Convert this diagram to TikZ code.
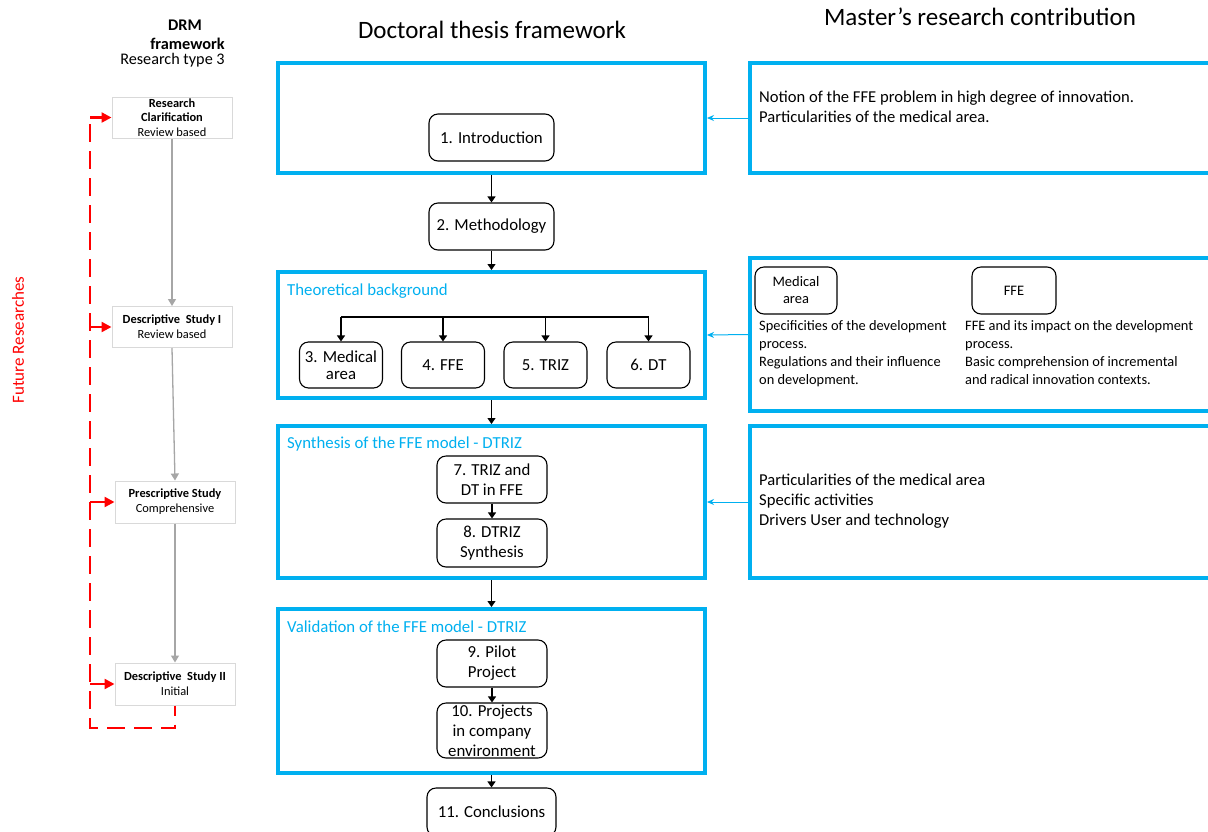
\documentclass[tikz,border=0pt]{standalone}
\usepackage{fontspec}
\setmainfont{Carlito}
\usetikzlibrary{arrows.meta}
\definecolor{skyline}{HTML}{00B0F0}
\definecolor{drmgray}{HTML}{A6A6A6}
\definecolor{drmframe}{HTML}{D9D9D9}
\definecolor{futurered}{HTML}{FF0000}
\newcommand\fsz[2]{\fontsize{#1}{#2}\selectfont}
\tikzset{
  panel/.style={draw=skyline, line width=4pt, inner sep=0pt},
  chapter/.style={draw, rounded corners=9pt, line width=1.1pt, align=center,
    inner sep=0pt, font=\fsz{16.8}{20}},
  flow/.style={line width=1.1pt, -{Triangle[length=6pt,width=8pt]}},
  feed/.style={draw=skyline, line width=1pt, -{Stealth[length=7pt,width=6pt]}},
  drmbox/.style={draw=drmframe, line width=1pt, align=center, inner sep=0pt,
    font=\fsz{12.4}{14.8}},
  drmflow/.style={draw=drmgray, line width=1.3pt, -{Triangle[length=7pt,width=8pt]}},
  redflow/.style={draw=futurered, line width=2.4pt, -{Triangle[length=10pt,width=10pt]}},
  reddash/.style={draw=futurered, line width=2.8pt, dash pattern=on 18pt off 9pt},
  paneltitle/.style={anchor=west, text=skyline, font=\fsz{16.8}{18}, inner sep=0pt},
  note/.style={anchor=north west, align=left, inner sep=0pt},
  heading/.style={inner sep=0pt},
}
\begin{document}
\begin{tikzpicture}[x=1pt,y=-1pt]
\useasboundingbox[fill=white] (0,0) rectangle (1208,831);

% column headings
\node[heading, font=\fsz{25}{28}] (hdoc) at (492,30) {Doctoral thesis framework};
\node[heading, font=\fsz{25}{28}] (hmas) at (980,17) {Master's research contribution};
\node[heading, font=\fsz{16.3}{18}\bfseries] (hdrm) at (185,25) {DRM};
\node[heading, font=\fsz{16.3}{18}\bfseries] (hfw) at (187.5,44) {framework};
\node[heading, font=\fsz{16.2}{18}] (htype) at (172.5,60.5) {Research type 3};

% thesis panels
\node[panel, minimum width=427pt, minimum height=110pt] (p1) at (491.5,118) {};
\node[panel, minimum width=427pt, minimum height=126pt] (p2) at (491.5,335) {};
\node[panel, minimum width=427pt, minimum height=152pt] (p3) at (491.5,502) {};
\node[panel, minimum width=427pt, minimum height=164pt] (p4) at (491.5,691) {};

\node[paneltitle] (t2) at (287,291) {Theoretical background};
\node[paneltitle] (t3) at (287,444) {Synthesis of the FFE model - DTRIZ};
\node[paneltitle] (t4) at (287,627) {Validation of the FFE model - DTRIZ};

% contribution panels
\node[panel, minimum width=462pt, minimum height=110pt] (r1) at (981,118) {};
\node[panel, minimum width=462pt, minimum height=153pt] (r2) at (981,334.5) {};
\node[panel, minimum width=462pt, minimum height=152pt] (r3) at (981,502) {};

% chapters
\node[chapter, minimum width=125pt, minimum height=47pt] (c1) at (491.5,137.5) {1. Introduction};
\node[chapter, minimum width=125pt, minimum height=47pt] (c2) at (491.5,226.5) {2. Methodology};
\node[chapter, minimum width=83pt, minimum height=46pt, font=\fsz{16.8}{17}] (c3) at (341,365) {3. Medical\\area};
\node[chapter, minimum width=83pt, minimum height=46pt] (c4) at (443,365) {4. FFE};
\node[chapter, minimum width=83pt, minimum height=46pt] (c5) at (545.5,365) {5. TRIZ};
\node[chapter, minimum width=83pt, minimum height=46pt] (c6) at (648.5,365) {6. DT};
\node[chapter, minimum width=110pt, minimum height=47pt] (c7) at (492,479.5) {7. TRIZ and\\DT in FFE};
\node[chapter, minimum width=110pt, minimum height=48pt] (c8) at (492,543) {8. DTRIZ\\Synthesis};
\node[chapter, minimum width=110pt, minimum height=47pt] (c9) at (492,663.5) {9. Pilot\\Project};
\node[chapter, minimum width=110pt, minimum height=55pt] (c10) at (492,730.5) {10. Projects\\in company\\environment};
\node[chapter, minimum width=129pt, minimum height=48pt] (c11) at (491.5,812) {11. Conclusions};

% main flow
\draw[flow] (p1.south) -- (c2.north);
\draw[flow] (c2.south) -- (p2.north);
\draw[flow] (p2.south) -- (p3.north);
\draw[flow] (c7.south) -- (c8.north);
\draw[flow] (p3.south) -- (p4.north);
\draw[flow] (c9.south) -- (c10.north);
\draw[flow] (p4.south) -- (c11.north);

% branch into the background chapters
\coordinate (bar) at (0,317);
\draw[line width=1.1pt] (c3.north |- bar) -- (c6.north |- bar);
\foreach \c in {c3,c4,c5,c6}
  \draw[flow] (\c.north |- bar) -- (\c.north);

% contribution feeds
\draw[feed] (r1.west) -- (p1.east);
\draw[feed] (r2.west) -- (p2.east);
\draw[feed] (r3.west) -- (p3.east);

% contribution texts
\node[anchor=west, align=left, inner sep=0pt, font=\fsz{16.6}{20}] (n1) at (759,107)
  {Notion of the FFE problem in high degree of innovation.\\Particularities of the medical area.};
\node[chapter, minimum width=82pt, minimum height=47pt, font=\fsz{14.5}{17}] (m1) at (796,290.5) {Medical\\area};
\node[chapter, minimum width=84pt, minimum height=47pt, font=\fsz{14.5}{17}] (m2) at (1014,290.5) {FFE};
\node[note, font=\fsz{14.4}{18}] (n2a) at (759,320)
  {Specificities of the development\\process.\\Regulations and their influence\\on development.};
\node[note, font=\fsz{14.4}{18}] (n2b) at (965,320)
  {FFE and its impact on the development\\process.\\Basic comprehension of incremental\\and radical innovation contexts.};
\node[anchor=west, align=left, inner sep=0pt, font=\fsz{16.6}{20}] (n3) at (759,501)
  {Particularities of the medical area\\Specific activities\\Drivers User and technology};

% DRM stages
\node[drmbox, minimum width=120pt, minimum height=41pt] (d1) at (172,117.5)
  {\textbf{Research}\\\textbf{Clarification}\\Review based};
\node[drmbox, minimum width=120pt, minimum height=41pt] (d2) at (172,327)
  {\textbf{Descriptive\ \ Study I}\\Review based};
\node[drmbox, minimum width=120pt, minimum height=42pt] (d3) at (175,502)
  {\textbf{Prescriptive Study}\\Comprehensive};
\node[drmbox, minimum width=120pt, minimum height=42pt] (d4) at (175,684)
  {\textbf{Descriptive\ \ Study II}\\Initial};
\draw[drmflow] (d1.south) -- (d2.north);
\draw[drmflow] (d2.south) -- (d3.north);
\draw[drmflow] (d3.south) -- (d4.north);

% feedback loop of future research
\coordinate (lt) at (90,118);
\coordinate (lb) at (90,728);
\draw[reddash, dash phase=8pt] (d4.south) -- (d4.south |- lb) -- (lb) -- (lt);
\foreach \d in {d1,d2,d3,d4}
  \draw[redflow] (lt |- \d.west) -- (\d.west);
\node[rotate=90, text=futurered, font=\fsz{17}{18}] (fr) at (18,340) {Future Researches};
\end{tikzpicture}
\end{document}
